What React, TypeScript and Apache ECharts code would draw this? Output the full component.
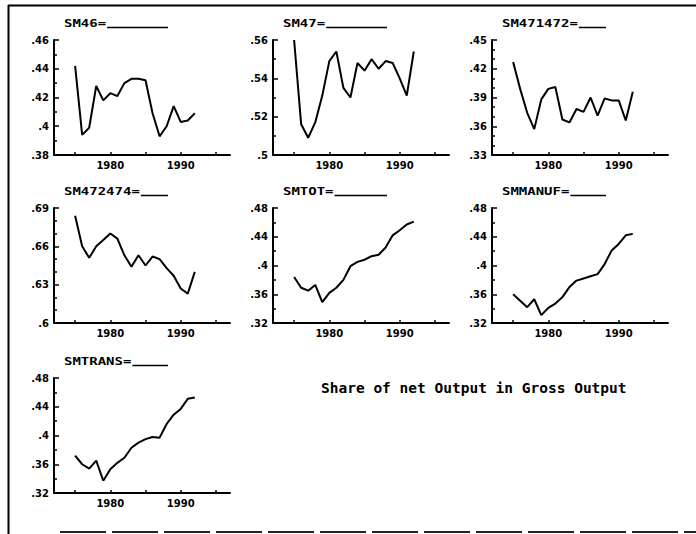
import React, { useEffect, useRef } from "react";
import * as echarts from "echarts";

// Observation years shared by every panel
const years = [1975, 1976, 1977, 1978, 1979, 1980, 1981, 1982, 1983, 1984, 1985, 1986, 1987, 1988, 1989, 1990, 1991, 1992];

// Share of net output in gross output, by sector
const sm46 = [0.442, 0.394, 0.399, 0.428, 0.418, 0.423, 0.421, 0.430, 0.433, 0.433, 0.432, 0.409, 0.393, 0.400, 0.414, 0.403, 0.404, 0.409];
const sm47 = [0.560, 0.516, 0.509, 0.517, 0.531, 0.549, 0.554, 0.535, 0.530, 0.548, 0.544, 0.550, 0.545, 0.549, 0.548, 0.540, 0.531, 0.554];
const sm471472 = [0.427, 0.399, 0.374, 0.357, 0.388, 0.399, 0.401, 0.367, 0.364, 0.378, 0.375, 0.390, 0.371, 0.389, 0.387, 0.387, 0.366, 0.396];
const sm472474 = [0.684, 0.660, 0.651, 0.660, 0.665, 0.670, 0.666, 0.653, 0.644, 0.653, 0.645, 0.652, 0.650, 0.643, 0.637, 0.627, 0.623, 0.640];
const smtot = [0.384, 0.369, 0.365, 0.373, 0.349, 0.362, 0.369, 0.380, 0.399, 0.405, 0.408, 0.413, 0.415, 0.425, 0.442, 0.449, 0.457, 0.461];
const smmanuf = [0.360, 0.351, 0.342, 0.353, 0.331, 0.341, 0.347, 0.356, 0.370, 0.379, 0.382, 0.385, 0.388, 0.402, 0.421, 0.430, 0.442, 0.444];
const smtrans = [0.372, 0.360, 0.354, 0.365, 0.337, 0.353, 0.362, 0.369, 0.383, 0.390, 0.395, 0.398, 0.397, 0.416, 0.429, 0.437, 0.451, 0.453];

// Axis labels
const xLabelYears = [1980, 1990];
const xTickYears = [1975, 1980, 1985, 1990, 1995];
const caption = "Share of net Output in Gross Output";

const panels = [
  { name: "SM46=", values: sm46, yMin: 0.38, yMax: 0.46, yStep: 0.02, minor: 2 },
  { name: "SM47=", values: sm47, yMin: 0.5, yMax: 0.56, yStep: 0.02, minor: 2 },
  { name: "SM471472=", values: sm471472, yMin: 0.33, yMax: 0.45, yStep: 0.03, minor: 3 },
  { name: "SM472474=", values: sm472474, yMin: 0.6, yMax: 0.69, yStep: 0.03, minor: 3 },
  { name: "SMTOT=", values: smtot, yMin: 0.32, yMax: 0.48, yStep: 0.04, minor: 2 },
  { name: "SMMANUF=", values: smmanuf, yMin: 0.32, yMax: 0.48, yStep: 0.04, minor: 2 },
  { name: "SMTRANS=", values: smtrans, yMin: 0.32, yMax: 0.48, yStep: 0.04, minor: 2 },
];

// Panel layout (3 columns, 3 rows)
const colLeft = [54, 273, 492];
const rowTop = [40, 208, 378];
const gridW = 176;
const gridH = 115;

const labelFont = {
  fontFamily: "DejaVu Sans",
  fontWeight: "bold" as const,
  fontSize: 10,
  color: "#000",
};

const fmtShare = (v: number) => {
  const s = String(parseFloat(v.toFixed(3)));
  return s.replace(/^0(?=\.)/, "");
};

export default function App() {
  const ref = useRef<HTMLDivElement>(null);

  useEffect(() => {
    if (!ref.current) return;
    const chart = echarts.init(ref.current, undefined, { renderer: "svg" });

    const grids: any[] = [];
    const xAxes: any[] = [];
    const yAxes: any[] = [];
    const series: any[] = [];
    const graphics: any[] = [];

    panels.forEach((p, i) => {
      const left = colLeft[i % 3];
      const top = rowTop[Math.floor(i / 3)];
      grids.push({ left, top, width: gridW, height: gridH });

      xAxes.push({
        type: "value",
        gridIndex: i,
        min: 1972,
        max: 1997,
        axisLine: { show: true, onZero: false, lineStyle: { color: "#000", width: 2 } },
        axisTick: {
          show: true,
          inside: true,
          length: 3,
          customValues: xTickYears,
          lineStyle: { color: "#000", width: 1.5 },
        },
        axisLabel: {
          ...labelFont,
          customValues: xLabelYears,
          margin: 5,
          formatter: (v: number) => String(v),
        },
        splitLine: { show: false },
      });

      yAxes.push({
        type: "value",
        gridIndex: i,
        min: p.yMin,
        max: p.yMax,
        interval: p.yStep,
        axisLine: { show: true, onZero: false, lineStyle: { color: "#000", width: 2 } },
        axisTick: { show: true, inside: true, length: 5, lineStyle: { color: "#000", width: 1.5 } },
        minorTick: {
          show: true,
          splitNumber: p.minor,
          length: 3,
          lineStyle: { color: "#000", width: 1.5 },
        },
        axisLabel: { ...labelFont, margin: 5, formatter: fmtShare },
        splitLine: { show: false },
      });

      series.push({
        type: "line",
        name: p.name,
        xAxisIndex: i,
        yAxisIndex: i,
        data: years.map((y, k) => [y, p.values[k]]),
        symbol: "none",
        lineStyle: { color: "#000", width: 2 },
      });

      // Panel caption with its line sample
      const textX = left + 10;
      const textW = p.name.length * 6.02 * 1.4;
      graphics.push({
        type: "text",
        x: textX,
        y: top - 16,
        scaleX: 1.4,
        style: {
          text: p.name,
          fontFamily: "DejaVu Sans Mono",
          fontWeight: "bold",
          fontSize: 10,
          fill: "#000",
          textVerticalAlign: "middle",
          verticalAlign: "middle",
        },
      });
      graphics.push({
        type: "line",
        shape: { x1: textX + textW + 1, y1: top - 12.5, x2: left + 114, y2: top - 12.5 },
        style: { stroke: "#000", lineWidth: 1.5 },
      });
    });

    // Page frame
    graphics.push(
      { type: "line", shape: { x1: 8.5, y1: 5, x2: 8.5, y2: 534 }, style: { stroke: "#000", lineWidth: 2 } },
      { type: "line", shape: { x1: 8, y1: 5.5, x2: 696, y2: 5.5 }, style: { stroke: "#000", lineWidth: 2 } },
      {
        type: "line",
        shape: { x1: 60, y1: 532, x2: 696, y2: 532 },
        style: { stroke: "#222", lineWidth: 2, lineDash: [46, 6] },
      }
    );

    chart.setOption({
      animation: false,
      backgroundColor: "#fff",
      title: {
        text: caption,
        left: 316,
        top: 375,
        textStyle: {
          fontFamily: "DejaVu Sans Mono",
          fontWeight: "bold",
          fontSize: 14.5,
          color: "#000",
        },
      },
      grid: grids,
      xAxis: xAxes,
      yAxis: yAxes,
      series,
      graphic: graphics,
    });

    return () => chart.dispose();
  }, []);

  return (
    <div
      ref={ref}
      style={{ position: "fixed", left: 0, top: 0, width: 696, height: 534, background: "#fff" }}
    />
  );
}
